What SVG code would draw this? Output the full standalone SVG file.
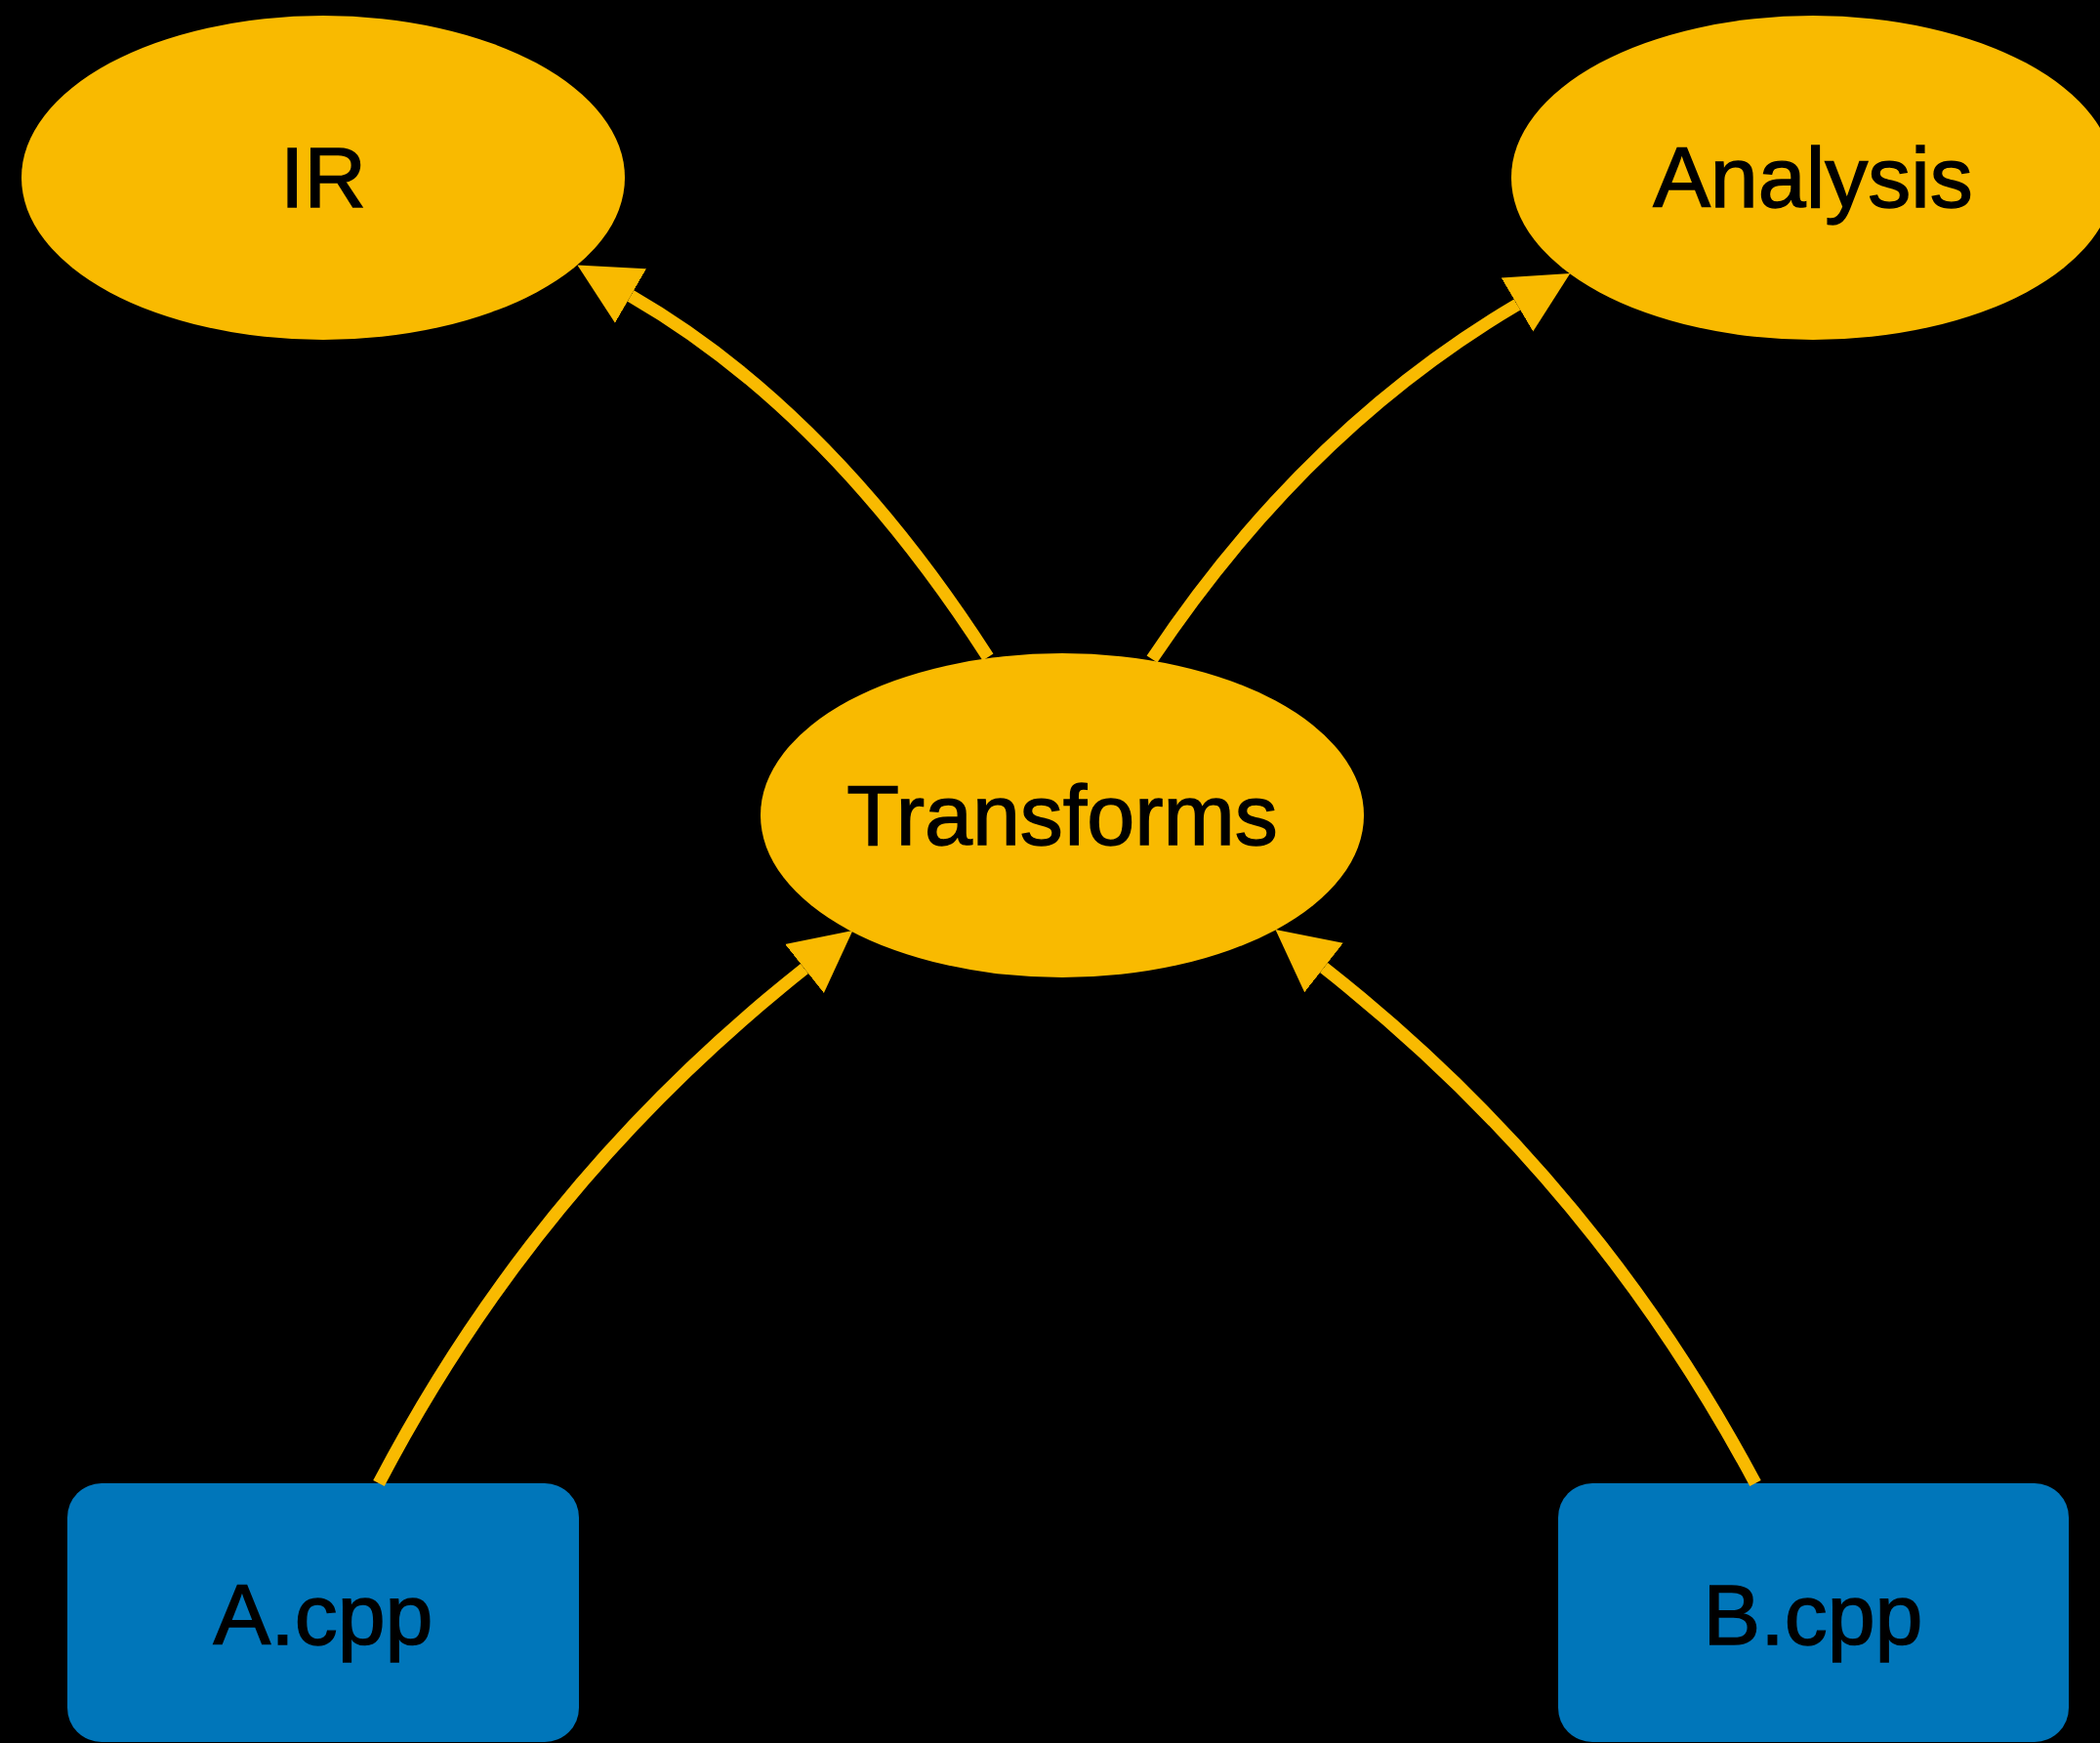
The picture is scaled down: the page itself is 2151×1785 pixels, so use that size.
<svg xmlns="http://www.w3.org/2000/svg" width="2151" height="1785" viewBox="0 0 2151 1785">
  <style>
    .ell { fill: #F9BA00; }
    .box { fill: #0076BA; }
    .lbl { font-family: "Liberation Sans", Arial, sans-serif; font-size: 88px; fill: #000000; stroke: #000000; stroke-width: 1.4; text-anchor: middle; }
    .edge { fill: none; stroke: #F9BA00; stroke-width: 13; stroke-linecap: butt; marker-end: url(#arrow); }
  </style>
  <defs>
    <marker id="arrow" markerUnits="userSpaceOnUse" markerWidth="64" markerHeight="66" viewBox="0 -33 64 66" refX="0" refY="0" orient="auto">
      <path d="M0,-32 L63,0 L0,32 Z" fill="#F9BA00"/>
    </marker>
  </defs>
  <rect x="0" y="0" width="2151" height="1785" fill="#000000"/>

  <g id="node-ir">
    <ellipse class="ell" cx="331" cy="182" rx="309" ry="166"/>
    <text class="lbl" x="331" y="212">IR</text>
  </g>
  <g id="node-analysis">
    <ellipse class="ell" cx="1857" cy="182" rx="309" ry="166"/>
    <text class="lbl" x="1857" y="212">Analysis</text>
  </g>
  <g id="node-transforms">
    <ellipse class="ell" cx="1088" cy="835" rx="309" ry="166"/>
    <text class="lbl" x="1088" y="865">Transforms</text>
  </g>
  <g id="node-a">
    <rect class="box" x="69" y="1519" width="524" height="265" rx="35" ry="35"/>
    <text class="lbl" x="331" y="1684">A.cpp</text>
  </g>
  <g id="node-b">
    <rect class="box" x="1596" y="1519" width="523" height="265" rx="35" ry="35"/>
    <text class="lbl" x="1857" y="1684">B.cpp</text>
  </g>

  <g id="connectors">
    <path class="edge" d="M1012,673 Q849,420 646,303"/>
    <path class="edge" d="M1180,675 Q1337,440 1554,312"/>
    <path class="edge" d="M388,1519 Q550,1209 824,992"/>
    <path class="edge" d="M1798,1519 Q1632,1208 1356,991"/>
  </g>
</svg>
